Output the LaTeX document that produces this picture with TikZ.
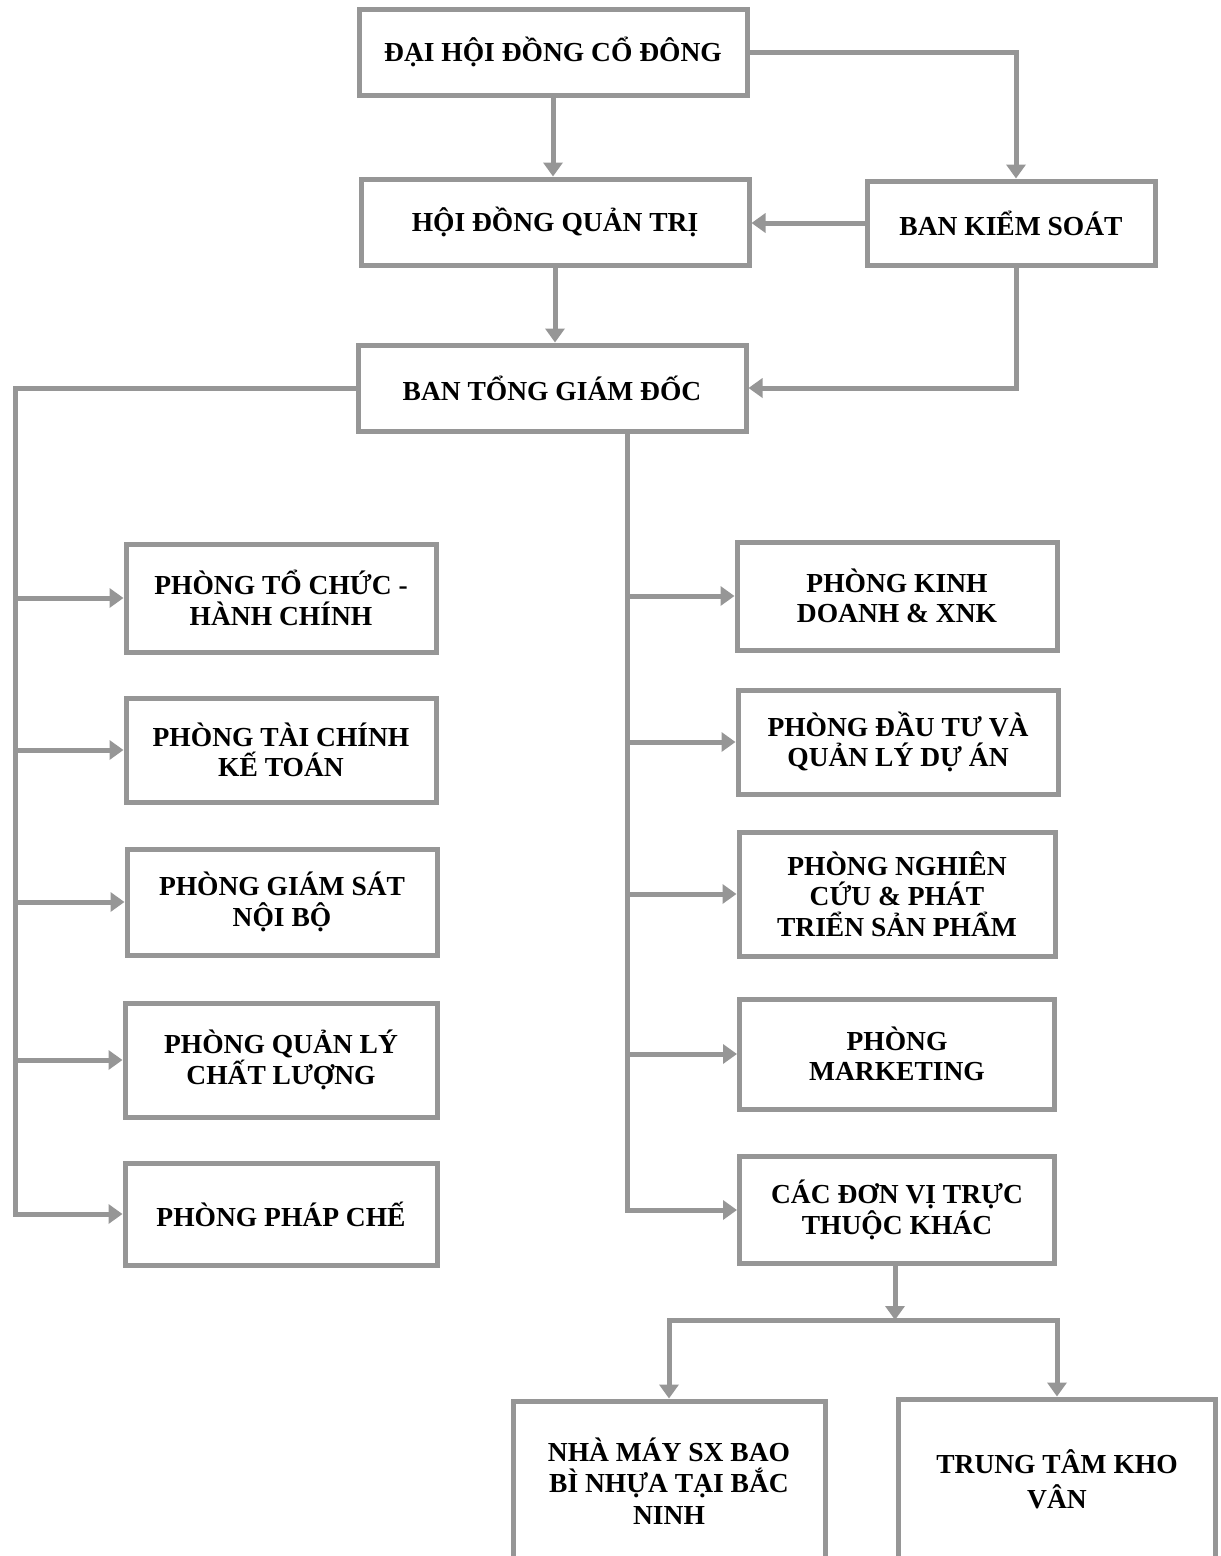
\documentclass[tikz,border=0pt]{standalone}
\usepackage{fontspec}
\setmainfont{Liberation Serif}
\usetikzlibrary{arrows.meta}
\definecolor{linegray}{RGB}{150,150,150}
\begin{document}
\begin{tikzpicture}[x=1pt,y=-1pt,
  box/.style={draw=linegray,line width=5pt,fill=white,align=center,inner sep=0pt,
    font=\bfseries\fontsize{27.5}{30.5}\selectfont},
  conn/.style={draw=linegray,line width=5pt,line cap=rect},
  arr/.style={conn,-{Triangle[length=14pt,width=19pt]}}]
\useasboundingbox (0,0) rectangle (1221,1556);
% top of the chart
\node[box,minimum width=388pt,minimum height=86pt] (dhdcd) at (553,52) {ĐẠI HỘI ĐỒNG CỔ ĐÔNG};
\node[box,minimum width=388pt,minimum height=86pt] (hdqt) at (555,222) {HỘI ĐỒNG QUẢN TRỊ};
\node[box,minimum width=288pt,minimum height=84pt] (bks) at (1011,223) {BAN KIỂM SOÁT};
\node[box,minimum width=388pt,minimum height=86pt] (btgd) at (552,388) {BAN TỔNG GIÁM ĐỐC};
% left column
\node[box,minimum width=310pt,minimum height=108pt] (tchc) at (281,598) {PHÒNG TỔ CHỨC -\\HÀNH CHÍNH};
\node[box,minimum width=310pt,minimum height=104pt] (tckt) at (281,750) {PHÒNG TÀI CHÍNH\\KẾ TOÁN};
\node[box,minimum width=310pt,minimum height=106pt] (gsnb) at (282,902) {PHÒNG GIÁM SÁT\\NỘI BỘ};
\node[box,minimum width=312pt,minimum height=114pt] (qlcl) at (281,1060) {PHÒNG QUẢN LÝ\\CHẤT LƯỢNG};
\node[box,minimum width=312pt,minimum height=102pt] (pc) at (281,1214) {PHÒNG PHÁP CHẾ};
% right column
\node[box,minimum width=320pt,minimum height=108pt] (kd) at (897,596) {PHÒNG KINH\\DOANH \& XNK};
\node[box,minimum width=320pt,minimum height=104pt] (dt) at (898,742) {PHÒNG ĐẦU TƯ VÀ\\QUẢN LÝ DỰ ÁN};
\node[box,minimum width=316pt,minimum height=124pt] (nc) at (897,894) {PHÒNG NGHIÊN\\CỨU \& PHÁT\\TRIỂN SẢN PHẨM};
\node[box,minimum width=315pt,minimum height=110pt] (mkt) at (897,1054) {PHÒNG\\MARKETING};
\node[box,minimum width=315pt,minimum height=107pt] (cdv) at (897,1210) {CÁC ĐƠN VỊ TRỰC\\THUỘC KHÁC};
% bottom
\node[box,minimum width=312pt,minimum height=160pt,font=\bfseries\fontsize{27.5}{31.5}\selectfont] (nm) at (669,1481) {NHÀ MÁY SX BAO\\BÌ NHỰA TẠI BẮC\\NINH};
\node[box,minimum width=317pt,minimum height=160pt,font=\bfseries\fontsize{27.5}{35}\selectfont] (ttkv) at (1057,1479) {TRUNG TÂM KHO\\VÂN};
\coordinate (kx) at (1016,0);
\coordinate (lt) at (15,388);
\coordinate (rt) at (627,432);
\coordinate (split) at (895,1320);
\draw[arr] (dhdcd.east) -| (kx |- bks.north);
\draw[arr] (dhdcd.south) -- (dhdcd.south |- hdqt.north);
\draw[arr] (bks.west) -- (bks.west -| hdqt.east);
\draw[arr] (hdqt.south) -- (hdqt.south |- btgd.north);
\draw[arr] (kx |- bks.south) |- (btgd.east);
\draw[conn] (btgd.west) -- (lt) -- (lt |- pc.west);
\foreach \n in {tchc,tckt,gsnb,qlcl,pc}
  \draw[arr] (lt |- \n.west) -- (\n.west);
\draw[conn] (rt) -- (rt |- cdv.west);
\foreach \n in {kd,dt,nc,mkt,cdv}
  \draw[arr] (rt |- \n.west) -- (\n.west);
\draw[arr] (split |- cdv.south) -- (split);
\draw[arr] (split) -| (nm.north);
\draw[arr] (split) -| (ttkv.north);
\end{tikzpicture}
\end{document}
